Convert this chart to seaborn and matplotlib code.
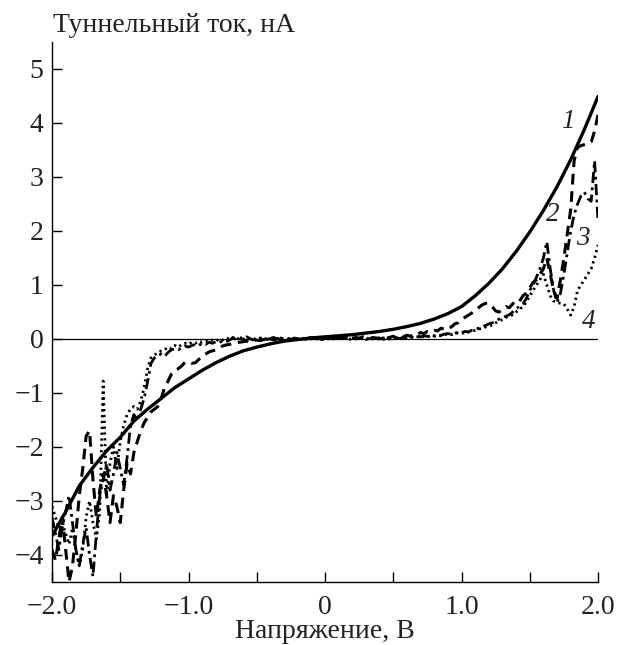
import numpy as np
import pandas as pd
import matplotlib
matplotlib.use("Agg")
import matplotlib.pyplot as plt
import seaborn as sns

# ---- data ----
v_smooth = np.round(np.arange(-2.0, 2.0001, 0.1), 3)
curve1 = [-3.65, -3.2, -2.72, -2.38, -2.07, -1.82, -1.52, -1.3, -1.1, -0.9,
          -0.74, -0.58, -0.44, -0.32, -0.22, -0.15, -0.09, -0.04, -0.01, 0.02,
          0.04, 0.06, 0.08, 0.11, 0.14, 0.18, 0.23, 0.29, 0.37, 0.47,
          0.6, 0.8, 1.03, 1.3, 1.62, 1.98, 2.38, 2.82, 3.32, 3.88,
          4.49]

v_noisy = np.round(np.arange(-2.0, 2.0001, 0.025), 3)
curve2 = [
    -3.9, -4.1, -3.7, -3.3, -3.9, -4.5, -4.2, -3.6,
    -2.9, -2.4, -1.8, -1.7, -2.6, -3.3, -2.8, -2.5,
    -2.9, -3.4, -2.9, -3.1, -3.4, -2.8, -2.3, -2.5,
    -2.1, -1.9, -1.7, -1.55, -1.45, -1.35, -1.3, -1.25,
    -1.1, -0.9, -0.78, -0.65, -0.58, -0.55, -0.5, -0.43,
    -0.42, -0.45, -0.44, -0.38, -0.32, -0.28, -0.24, -0.22,
    -0.2, -0.16, -0.13, -0.11, -0.1, -0.08, -0.07, -0.06,
    -0.05, -0.04, -0.05, -0.03, -0.02, -0.03, -0.01, -0.02,
    0.0, -0.02, 0.01, -0.01, 0.0, 0.02, -0.01, 0.01,
    0.0, 0.02, -0.01, 0.01, 0.03, 0.0, 0.02, -0.01,
    0.01, 0.03, 0.0, 0.02, 0.04, 0.01, 0.03, 0.02,
    0.0, 0.03, 0.01, 0.04, 0.02, 0.0, 0.03, 0.01,
    0.02, 0.04, 0.01, 0.03, 0.05, 0.02, 0.06, 0.04,
    0.07, 0.05, 0.09, 0.08, 0.12, 0.1, 0.14, 0.13,
    0.16, 0.15, 0.2, 0.18, 0.23, 0.22, 0.28, 0.3,
    0.36, 0.4, 0.44, 0.48, 0.52, 0.58, 0.63, 0.66,
    0.66, 0.6, 0.52, 0.5, 0.55, 0.6, 0.58, 0.65,
    0.72, 0.7, 0.8, 0.85, 0.95, 1.05, 1.1, 1.2,
    1.3, 1.5, 1.2, 0.9, 0.75, 1.1, 1.5, 1.95,
    2.4, 3.3, 3.55, 3.58, 3.6, 3.62, 3.65, 3.85,
    4.15]
curve3 = [
    -3.3, -3.6, -3.9, -3.5, -3.2, -2.9, -3.4, -3.9,
    -4.2, -3.8, -3.5, -4.0, -4.4, -3.6, -2.9, -2.6,
    -2.3, -2.8, -2.5, -2.1, -2.4, -2.7, -2.2, -1.6,
    -1.4, -1.5, -1.3, -1.1, -0.8, -0.45, -0.35, -0.3,
    -0.28, -0.32, -0.25, -0.2, -0.18, -0.2, -0.16, -0.13,
    -0.15, -0.12, -0.1, -0.12, -0.08, -0.1, -0.06, -0.08,
    -0.05, -0.07, -0.03, -0.05, -0.02, 0.02, -0.01, 0.03,
    0.0, 0.04, 0.01, -0.02, 0.03, 0.0, 0.02, -0.01,
    0.01, 0.03, -0.01, 0.02, 0.0, 0.01, -0.02, 0.02,
    0.0, -0.01, 0.02, 0.0, 0.01, 0.03, 0.0, 0.02,
    0.01, 0.0, 0.03, 0.01, 0.02, 0.0, 0.03, 0.01,
    0.02, 0.0, 0.02, 0.01, 0.03, 0.0, 0.01, 0.02,
    0.0, 0.02, 0.01, 0.03, 0.0, 0.02, 0.01, 0.03,
    0.02, 0.04, 0.03, 0.05, 0.04, 0.06, 0.05, 0.07,
    0.06, 0.08, 0.07, 0.09, 0.1, 0.09, 0.11, 0.12,
    0.12, 0.14, 0.13, 0.16, 0.17, 0.2, 0.22, 0.25,
    0.28, 0.3, 0.33, 0.37, 0.4, 0.42, 0.45, 0.5,
    0.56, 0.6, 0.65, 0.75, 0.9, 1.0, 1.15, 1.3,
    1.5, 1.8, 1.3, 0.9, 0.68, 0.85, 1.2, 1.6,
    2.0, 2.3, 2.5, 2.65, 2.72, 2.6, 2.55, 3.3,
    2.2]
curve4 = [
    -3.1, -3.3, -3.5, -3.4, -3.6, -3.8, -3.5, -3.9,
    -4.2, -3.9, -3.3, -3.0, -3.4, -3.7, -3.2, -0.78,
    -2.9, -2.3, -2.0, -2.4, -1.9, -1.6, -1.4, -1.3,
    -1.25, -1.3, -1.15, -0.9, -0.55, -0.35, -0.3, -0.25,
    -0.22, -0.2, -0.15, -0.18, -0.12, -0.15, -0.1, -0.08,
    -0.1, -0.06, -0.08, -0.04, -0.06, -0.03, -0.05, -0.02,
    -0.04, 0.0, -0.02, 0.02, 0.0, 0.03, -0.01, 0.02,
    0.0, -0.02, 0.01, 0.0, -0.01, 0.02, 0.0, 0.01,
    -0.01, 0.01, 0.0, -0.02, 0.01, 0.0, 0.02, 0.0,
    0.01, -0.01, 0.0, 0.02, 0.0, 0.01, -0.01, 0.0,
    0.02, 0.0, 0.01, -0.01, 0.02, 0.0, 0.01, 0.0,
    -0.01, 0.01, 0.0, 0.02, -0.01, 0.01, 0.0, 0.01,
    0.0, -0.01, 0.01, 0.0, 0.02, 0.0, 0.01, 0.03,
    0.01, 0.03, 0.02, 0.04, 0.03, 0.05, 0.04, 0.06,
    0.05, 0.07, 0.06, 0.08, 0.09, 0.08, 0.1, 0.11,
    0.1, 0.12, 0.13, 0.15, 0.16, 0.18, 0.2, 0.22,
    0.24, 0.26, 0.3, 0.33, 0.36, 0.4, 0.42, 0.45,
    0.5, 0.55, 0.6, 0.68, 0.8, 0.9, 1.0, 1.1,
    1.2, 1.0, 0.8, 0.7, 0.68, 0.66, 0.65, 0.55,
    0.44, 0.6, 0.9, 1.0, 1.1, 1.2, 1.3, 1.5,
    1.74]

x_ticks = [-2.0, -1.5, -1.0, -0.5, 0.0, 0.5, 1.0, 1.5, 2.0]
x_ticklabels = ["\u22122.0", "", "\u22121.0", "", "0", "", "1.0", "", "2.0"]
y_ticks = [-4, -3, -2, -1, 0, 1, 2, 3, 4, 5]
y_ticklabels = ["\u22124", "\u22123", "\u22122", "\u22121", "0", "1", "2", "3", "4", "5"]
curve_labels = ["1", "2", "3", "4"]
label_pos = [(1.78, 4.03), (1.67, 2.31), (1.89, 1.87), (1.93, 0.33)]
x_title = "Напряжение, В"
y_title = "Туннельный ток, нА"

# ---- style ----
sns.set_style("ticks")
plt.rcParams["font.family"] = ["Liberation Serif", "DejaVu Serif"]
plt.rcParams["axes.unicode_minus"] = True

fig = plt.figure(figsize=(6.18, 6.45), dpi=100)
ax = fig.add_axes([52 / 618, 1 - 582 / 645, (598 - 52) / 618, (582 - 42) / 645])

ax.axhline(0, color="black", lw=0.9, zorder=1)

sns.lineplot(x=v_smooth, y=curve1, ax=ax, color="black", lw=2.4,
             linestyle="-", errorbar=None, zorder=3)
sns.lineplot(x=v_noisy, y=curve2, ax=ax, color="black", lw=2.2,
             linestyle=(0, (3.5, 2.2)), errorbar=None, zorder=2)
sns.lineplot(x=v_noisy, y=curve3, ax=ax, color="black", lw=2.0,
             linestyle=(0, (4, 1.6, 1, 1.6)), errorbar=None, zorder=2)
sns.lineplot(x=v_noisy, y=curve4, ax=ax, color="black", lw=2.0,
             linestyle=(0, (0.8, 1.3)), errorbar=None, zorder=2)

for lab, (px, py) in zip(curve_labels, label_pos):
    ax.text(px, py, lab, fontsize=19.5, fontstyle="italic", ha="center",
            va="center", color="#222222")

ax.set_xlim(-2.0, 2.0)
ax.set_ylim(-4.5, 5.5)
ax.set_xticks(x_ticks)
ax.set_xticklabels(x_ticklabels)
ax.set_yticks(y_ticks)
ax.set_yticklabels(y_ticklabels)
ax.tick_params(axis="both", direction="in", length=7.2, width=1.0,
               labelsize=20, color="black", labelcolor="#222222")
ax.tick_params(axis="x", pad=9)
ax.tick_params(axis="y", pad=6)
for s in ["top", "right"]:
    ax.spines[s].set_visible(False)
for s in ["left", "bottom"]:
    ax.spines[s].set_linewidth(1.0)
    ax.spines[s].set_color("black")
ax.set_xlabel("")
ax.set_ylabel("")
ax.grid(False)

fig.text(53 / 618, 1 - 32 / 645, y_title, fontsize=20, ha="left",
         va="baseline", color="#222222")
fig.text(325 / 618, 1 - 638 / 645, x_title, fontsize=20, ha="center",
         va="baseline", color="#222222")

fig.savefig("out.png", dpi=100)
